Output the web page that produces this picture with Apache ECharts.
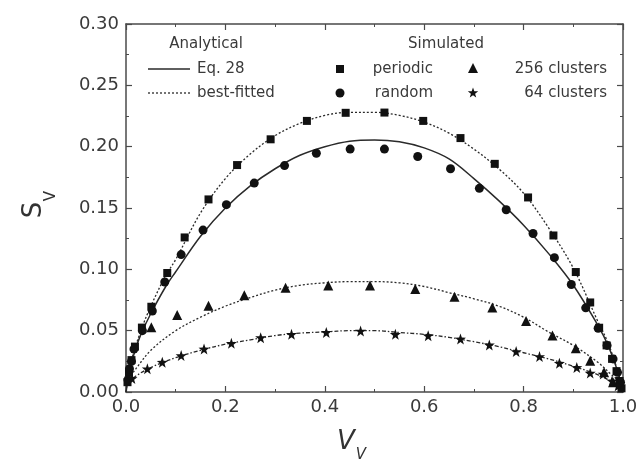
<!DOCTYPE html>
<html><head><meta charset="utf-8">
<script src="https://cdn.jsdelivr.net/npm/echarts@6/dist/echarts.min.js"></script>
<style>html,body{margin:0;padding:0;background:#fff}#c{width:642px;height:465px}</style>
</head><body><div id="c"></div>
<script>
// ---- data ----
const xTickLabels = ['0.0','0.2','0.4','0.6','0.8','1.0'];
const yTickLabels = ['0.00','0.05','0.10','0.15','0.20','0.25','0.30'];

const periodic = [[0.003,0.008],[0.006,0.016],[0.011,0.026],[0.018,0.037],[0.032,0.0525],[0.051,0.0695],[0.083,0.097],[0.118,0.126],[0.166,0.157],[0.2235,0.185],[0.291,0.206],[0.364,0.221],[0.442,0.2276],[0.52,0.2278],[0.598,0.221],[0.673,0.207],[0.742,0.186],[0.809,0.1586],[0.86,0.1276],[0.905,0.0978],[0.934,0.073],[0.952,0.0524],[0.967,0.038],[0.978,0.027],[0.987,0.017],[0.993,0.009],[0.997,0.003]];
const random = [[0.004,0.010],[0.007,0.019],[0.011,0.025],[0.016,0.035],[0.033,0.050],[0.053,0.066],[0.078,0.0897],[0.111,0.112],[0.155,0.132],[0.202,0.1527],[0.258,0.1703],[0.319,0.1846],[0.383,0.1946],[0.451,0.198],[0.52,0.198],[0.587,0.192],[0.653,0.182],[0.711,0.166],[0.765,0.1486],[0.819,0.1292],[0.862,0.1095],[0.896,0.0876],[0.925,0.0686],[0.950,0.052],[0.968,0.038],[0.98,0.027],[0.989,0.016],[0.995,0.008]];
const clusters256 = [[0.051,0.0527],[0.103,0.0627],[0.166,0.0703],[0.238,0.0789],[0.321,0.0849],[0.407,0.0868],[0.491,0.0868],[0.582,0.0840],[0.661,0.0776],[0.737,0.0689],[0.805,0.0578],[0.858,0.046],[0.905,0.0357],[0.934,0.0254],[0.962,0.016],[0.98,0.008]];
const clusters64 = [[0.012,0.011],[0.043,0.0189],[0.073,0.0243],[0.111,0.0297],[0.157,0.0351],[0.212,0.0397],[0.271,0.0443],[0.333,0.047],[0.403,0.0486],[0.472,0.0497],[0.542,0.047],[0.608,0.0459],[0.673,0.0432],[0.731,0.0384],[0.785,0.033],[0.832,0.0289],[0.872,0.0235],[0.907,0.02],[0.934,0.0154],[0.96,0.0146],[0.978,0.009],[0.99,0.005]];

const eq28 = [[0,0],[0.005,0.013],[0.01,0.022],[0.02,0.036],[0.03,0.047],[0.05,0.064],[0.08,0.086],[0.1,0.098],[0.15,0.127],[0.2,0.150],[0.25,0.168],[0.3,0.182],[0.35,0.193],[0.4,0.200],[0.45,0.2045],[0.5,0.2055],[0.55,0.204],[0.6,0.199],[0.65,0.190],[0.7,0.174],[0.75,0.156],[0.8,0.136],[0.85,0.113],[0.9,0.087],[0.95,0.054],[0.97,0.038],[0.99,0.016],[1,0]];
const fitPeriodic = [[0,0],[0.01,0.024],[0.03,0.05],[0.05,0.07],[0.08,0.095],[0.1,0.108],[0.15,0.146],[0.2,0.174],[0.25,0.194],[0.3,0.209],[0.35,0.219],[0.4,0.2255],[0.45,0.228],[0.5,0.228],[0.55,0.2255],[0.6,0.220],[0.65,0.211],[0.7,0.198],[0.75,0.182],[0.8,0.162],[0.85,0.134],[0.9,0.101],[0.95,0.057],[0.97,0.040],[0.99,0.016],[1,0]];
const fit256 = [[0,0.008],[0.02,0.019],[0.05,0.034],[0.1,0.050],[0.15,0.061],[0.2,0.070],[0.25,0.077],[0.3,0.083],[0.35,0.087],[0.4,0.089],[0.45,0.090],[0.5,0.090],[0.55,0.089],[0.6,0.086],[0.65,0.081],[0.7,0.076],[0.75,0.070],[0.8,0.061],[0.85,0.049],[0.9,0.038],[0.95,0.024],[0.98,0.013],[1,0.007]];
const fit64 = [[0,0.006],[0.02,0.013],[0.05,0.020],[0.1,0.028],[0.15,0.034],[0.2,0.039],[0.25,0.0425],[0.3,0.046],[0.35,0.048],[0.4,0.049],[0.45,0.050],[0.5,0.050],[0.55,0.0485],[0.6,0.047],[0.65,0.0445],[0.7,0.041],[0.75,0.037],[0.8,0.032],[0.85,0.027],[0.9,0.021],[0.95,0.014],[0.98,0.008],[1,0.004]];

// ---- drawing ----
const STAR = 'path://M0,-10L2.35,-3.24L9.51,-3.09L3.8,1.24L5.88,8.09L0,4L-5.88,8.09L-3.8,1.24L-9.51,-3.09L-2.35,-3.24Z';
const FONT = 'DejaVu Sans';
const INK = '#111111';
const AX = '#4a4a4a';

const axisBase = {
  type: 'value', min: 0,
  axisLine: {show: true, onZero: false, lineStyle: {color: AX, width: 1.5}},
  axisTick: {show: true, inside: true, length: 6, lineStyle: {color: AX, width: 1.2}},
  minorTick: {show: true, splitNumber: 2, length: 3, lineStyle: {color: AX, width: 1}},
  splitLine: {show: false}, minorSplitLine: {show: false}
};
const labelStyle = {fontSize: 18, color: '#3a3a3a', fontFamily: FONT};

const chart = echarts.init(document.getElementById('c'), null, {renderer: 'canvas'});

function lineSeries(data, type, width) {
  return {type: 'line', data: data, showSymbol: false, smooth: 0.35,
    lineStyle: {color: '#2a2a2a', width: width, type: type}, z: 2, silent: true};
}
function scatterSeries(data, symbol, size) {
  return {type: 'scatter', data: data, symbol: symbol, symbolSize: size,
    itemStyle: {color: INK, opacity: 1}, z: 3, silent: true};
}

const legendText = (x, y, text, align) => ({type: 'text', x: x, y: y,
  style: {text: text, font: '15px "' + FONT + '"', fill: '#3a3a3a', align: align || 'left', verticalAlign: 'middle'}});

chart.setOption({
  animation: false,
  backgroundColor: '#fff',
  grid: {left: 126, right: 19, top: 24, bottom: 73, outerBoundsMode: 'none'},
  xAxis: [
    Object.assign({}, axisBase, {max: 1, interval: 0.2, position: 'bottom',
      axisLabel: Object.assign({margin: 6, formatter: (v) => xTickLabels[Math.round(v / 0.2)]}, labelStyle)}),
    Object.assign({}, axisBase, {max: 1, interval: 0.2, position: 'top', axisLabel: {show: false}})
  ],
  yAxis: [
    Object.assign({}, axisBase, {max: 0.3, interval: 0.05, position: 'left',
      axisLabel: Object.assign({margin: 7, formatter: (v) => yTickLabels[Math.round(v / 0.05)]}, labelStyle)}),
    Object.assign({}, axisBase, {max: 0.3, interval: 0.05, position: 'right', axisLabel: {show: false}})
  ],
  series: [
    lineSeries(eq28, 'solid', 1.5),
    lineSeries(fitPeriodic, [2, 2], 1.3),
    lineSeries(fit256, [2, 2], 1.3),
    lineSeries(fit64, [4, 2, 1.5, 2], 1.3),
    scatterSeries(periodic, 'rect', 8),
    scatterSeries(random, 'circle', 9),
    scatterSeries(clusters256, 'triangle', 10),
    scatterSeries(clusters64, STAR, 11)
  ],
  graphic: [
    // axis titles
    {type: 'text', x: 34, y: 210, rotation: Math.PI / 2,
      style: {text: 'S', font: '26px "' + FONT + '"', fill: '#333', align: 'center', verticalAlign: 'middle'}},
    {type: 'text', x: 51, y: 196, rotation: Math.PI / 2,
      style: {text: 'V', font: '15px "' + FONT + '"', fill: '#333', align: 'center', verticalAlign: 'middle'}},
    {type: 'text', x: 346, y: 442,
      style: {text: 'V', font: 'italic 26px "' + FONT + '"', fill: '#333', align: 'center', verticalAlign: 'middle'}},
    {type: 'text', x: 361, y: 455,
      style: {text: 'V', font: 'italic 15px "' + FONT + '"', fill: '#333', align: 'center', verticalAlign: 'middle'}},
    // legend
    legendText(206, 44, 'Analytical', 'center'),
    {type: 'line', shape: {x1: 148, y1: 69, x2: 190, y2: 69}, style: {stroke: '#2a2a2a', lineWidth: 1.5}},
    legendText(197, 69, 'Eq. 28'),
    {type: 'line', shape: {x1: 148, y1: 93, x2: 190, y2: 93}, style: {stroke: '#2a2a2a', lineWidth: 1.3, lineDash: [2, 2]}},
    legendText(197, 93, 'best-fitted'),
    legendText(446, 44, 'Simulated', 'center'),
    {type: 'rect', shape: {x: 336, y: 65, width: 8, height: 8}, style: {fill: INK}},
    legendText(433, 69, 'periodic', 'right'),
    {type: 'circle', shape: {cx: 340, cy: 93, r: 4.5}, style: {fill: INK}},
    legendText(433, 93, 'random', 'right'),
    {type: 'polygon', shape: {points: [[473, 63], [478, 73], [468, 73]]}, style: {fill: INK}},
    legendText(607, 69, '256 clusters', 'right'),
    {type: 'polygon', shape: {points: [[473, 87.5], [474.3, 91.2], [478.2, 91.3], [475.1, 93.7], [476.2, 97.4], [473, 95.2], [469.8, 97.4], [470.9, 93.7], [467.8, 91.3], [471.7, 91.2]]}, style: {fill: INK}},
    legendText(607, 93, '64 clusters', 'right')
  ]
});
</script>
</body></html>
